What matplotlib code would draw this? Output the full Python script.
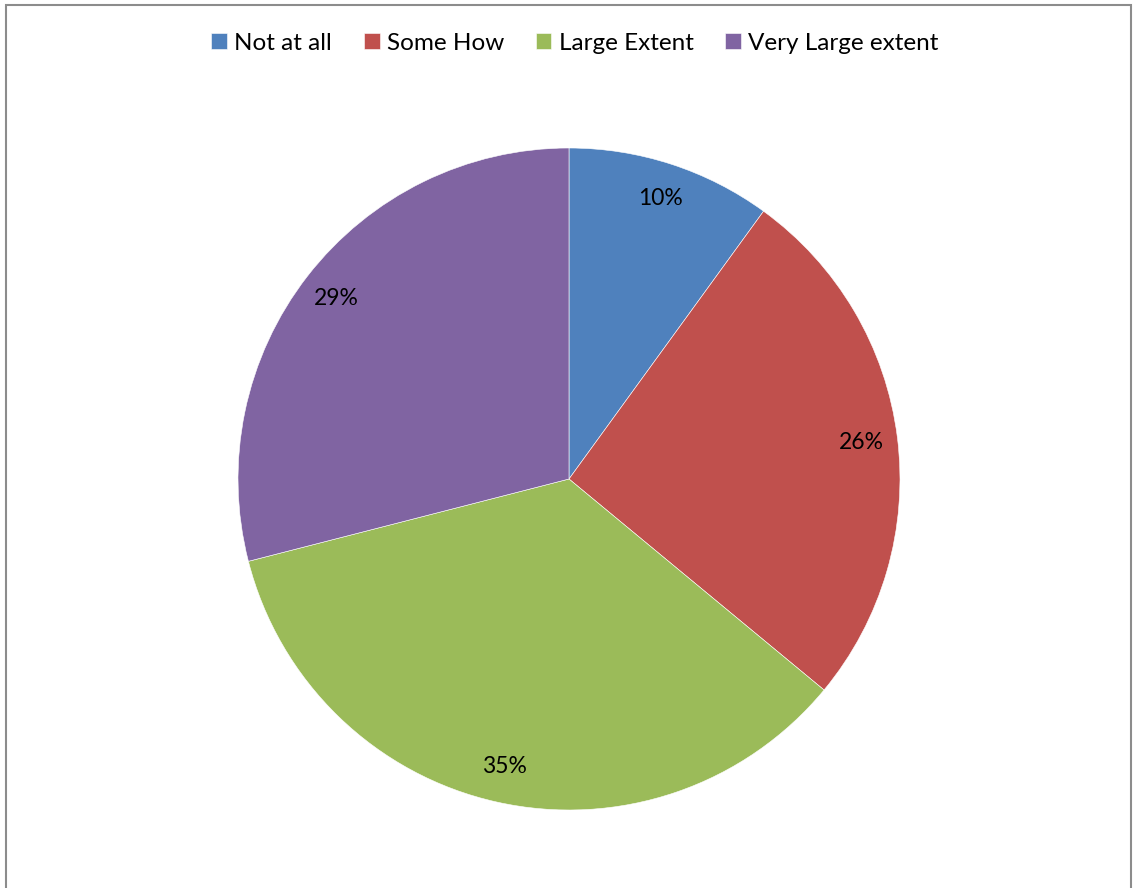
import matplotlib.pyplot as plt
from matplotlib.patches import Rectangle

# Response shares for each answer option
labels = ['Not at all', 'Some How', 'Large Extent', 'Very Large extent']
shares = [10, 26, 35, 29]
colors = ['#4F81BD', '#C0504D', '#9BBB59', '#8064A2']

plt.rcParams['font.family'] = ['Lato', 'DejaVu Sans']

W, H = 1133, 888
fig = plt.figure(figsize=(W / 100, H / 100), dpi=100)

# chart area border (bottom edge falls outside the image)
fig.patches.append(Rectangle((6 / W, -0.05), (1131 - 6) / W, (H - 5) / H + 0.05,
                             transform=fig.transFigure, fill=False,
                             edgecolor='#8c8c8c', linewidth=1.5))

# square axes around the pie
cx, cy, r = 569, 479, 331
ax = fig.add_axes([(cx - r) / W, 1 - (cy + r) / H, 2 * r / W, 2 * r / H])
wedges, _, autotexts = ax.pie(shares, colors=colors, startangle=90, counterclock=False,
                              radius=1, autopct='%1.0f%%', pctdistance=0.89,
                              wedgeprops=dict(linewidth=0.4, edgecolor='white'),
                              textprops=dict(fontsize=16.5, color='black'))
ax.set_xlim(-1, 1)
ax.set_ylim(-1, 1)
ax.set_aspect('equal')
ax.axis('off')

fig.legend(wedges, labels, loc='center', ncol=4, frameon=False,
           bbox_to_anchor=(575 / W, 1 - 43 / H), fontsize=17.5,
           handlelength=0.65, handleheight=0.65, handletextpad=0.3,
           columnspacing=1.3)

fig.savefig('out.png', dpi=100)
